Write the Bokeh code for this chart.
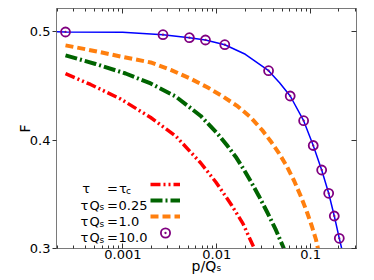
import math
from bokeh.plotting import figure
from bokeh.models import (FixedTicker, PrintfTickFormatter, CustomJSTickFormatter, LogAxis,
                          LinearAxis, Label, Legend, LegendItem, Range1d)
from bokeh.embed import file_html
from bokeh.resources import INLINE

# ---------------- data ----------------
blue_p = [1.961e-4, 2.446e-4, 9.927e-4, 2.6727e-3, 5.112e-3, 7.575e-3, 1.2175e-2, 2.0146e-2,
          3.5638e-2, 4.6672e-2, 6.0584e-2, 8.4199e-2, 0.10659, 0.13108, 0.15566, 0.17860,
          0.20197, 0.21423]
blue_F = [0.5, 0.49982, 0.49954, 0.49732, 0.49455, 0.49243, 0.48809, 0.47923,
          0.46410, 0.45302, 0.44075, 0.41795, 0.39506, 0.37245, 0.35095, 0.33000,
          0.30941, 0.3]

circ_p = [2.446e-4, 2.6727e-3, 5.112e-3, 7.575e-3, 1.2175e-2, 3.5638e-2, 6.0584e-2,
          8.4199e-2, 0.10659, 0.13108, 0.15566, 0.17860, 0.20197]
circ_F = [0.49982, 0.49732, 0.49455, 0.49243, 0.48809, 0.46410, 0.44075,
          0.41795, 0.39506, 0.37245, 0.35095, 0.33000, 0.30941]

orange_p = [2.446e-4, 5.113e-4, 9.450e-4, 1.975e-3, 3.229e-3, 5.279e-3, 8.017e-3, 1.1879e-2,
            1.6757e-2, 2.3058e-2, 3.097e-2, 3.770e-2, 4.588e-2, 5.585e-2, 6.683e-2,
            7.881e-2, 9.130e-2, 0.10324, 0.11391, 0.11964]
orange_F = [0.4875, 0.4821, 0.4772, 0.4717, 0.4649, 0.4566, 0.4486, 0.4398,
            0.4311, 0.4209, 0.4085, 0.3988, 0.3881, 0.3757, 0.3623,
            0.3480, 0.3337, 0.3203, 0.3083, 0.3]

green_p = [2.446e-4, 5.113e-4, 1.0686e-3, 1.975e-3, 3.651e-3, 6.749e-3, 1.0249e-2, 1.2789e-2,
           1.5955e-2, 1.9418e-2, 2.3058e-2, 2.8071e-2, 3.5031e-2, 4.2631e-2, 5.1882e-2]
green_F = [0.4783, 0.4703, 0.4615, 0.4523, 0.4403, 0.4223, 0.4057, 0.3955,
           0.3845, 0.3729, 0.3618, 0.3485, 0.3323, 0.3171, 0.3]

red_p = [2.446e-4, 4.520e-4, 9.450e-4, 1.975e-3, 3.651e-3, 6.749e-3, 9.757e-3, 1.4108e-2,
         1.8947e-2, 2.5131e-2]
red_F = [0.4613, 0.4514, 0.4380, 0.4209, 0.4038, 0.3789, 0.3614, 0.3411,
         0.3232, 0.3]

x_ticks = [0.001, 0.01, 0.1]
y_ticks = [0.3, 0.4, 0.5]
legend_values = ["0.25", "1.0", "10.0"]

FONT = "DejaVu Sans"
AX = "#7a7a7a"

p = figure(width=374, height=280, x_axis_type="log",
           x_range=Range1d(1.961e-4, 0.308), y_range=Range1d(0.3, 0.5215),
           output_backend="svg", toolbar_location=None,
           min_border_left=56, min_border_right=18, min_border_top=8, min_border_bottom=32)
p.grid.visible = False
p.outline_line_color = AX
p.background_fill_color = "white"
p.border_fill_color = "white"

minor = [m * 10.0 ** e for e in (-4, -3, -2, -1) for m in range(2, 10)]
xt = FixedTicker(ticks=x_ticks, minor_ticks=minor)
yt = FixedTicker(ticks=y_ticks, minor_ticks=[])

xa = p.xaxis[0]
xa.ticker = xt
xa.formatter = PrintfTickFormatter(format="%g")
xa.major_tick_in = 5
xa.major_tick_out = 0
xa.minor_tick_in = 3
xa.minor_tick_out = 0
xa.major_label_standoff = 1
xa.axis_label = "p/Q\u209b"
xa.axis_label_standoff = -4
ya = p.yaxis[0]
ya.ticker = yt
ya.formatter = PrintfTickFormatter(format="%.1f")
ya.major_tick_in = 0
ya.major_tick_out = 4
ya.minor_tick_in = 0
ya.minor_tick_out = 0
ya.major_label_standoff = 2
ya.axis_label = "F"
ya.axis_label_standoff = -6
for a in (xa, ya):
    a.axis_line_color = AX
    a.major_tick_line_color = "#333333"
    a.minor_tick_line_color = "#333333"
    a.major_label_text_font = FONT
    a.major_label_text_font_size = "13px"
    a.major_label_text_color = "black"
    a.axis_label_text_font = FONT
    a.axis_label_text_font_size = "14px"
    a.axis_label_text_font_style = "normal"
    a.axis_label_text_color = "black"

blank = CustomJSTickFormatter(code="return ''")
top = LogAxis(ticker=xt, formatter=blank, major_tick_in=5, major_tick_out=0,
              minor_tick_in=3, minor_tick_out=0, major_label_standoff=0,
              axis_line_color=AX, major_tick_line_color="#333333",
              minor_tick_line_color="#333333", major_label_text_font_size="1px")
right = LinearAxis(ticker=yt, formatter=blank, major_tick_in=5, major_tick_out=0,
                   minor_tick_in=0, minor_tick_out=0, major_label_standoff=0,
                   axis_line_color=AX, major_tick_line_color="#333333",
                   major_label_text_font_size="1px")
p.add_layout(top, "above")
p.add_layout(right, "right")

r_red = p.line(red_p, red_F, line_color="#ff0000", line_width=3.5, line_dash="10 3 2 3 2 3")
r_green = p.line(green_p, green_F, line_color="#006400", line_width=4, line_dash="12 3 2 3")
r_orange = p.line(orange_p, orange_F, line_color="#ff7f0e", line_width=4, line_dash="8 4")
p.line(blue_p, blue_F, line_color="#0000ff", line_width=1.5)
r_circ = p.scatter(circ_p, circ_F, marker="circle_dot", size=9, line_color="#800080",
                   fill_color=None, line_width=1.8)

# legend samples (glyphs only), text drawn as labels
leg1 = Legend(items=[LegendItem(label=" ", renderers=[r]) for r in (r_red, r_green, r_orange)],
              location=(94, 24), padding=0, margin=0, spacing=0, glyph_width=30, glyph_height=16,
              label_height=16, label_width=0, label_standoff=0, label_text_font_size="1px",
              background_fill_alpha=0, border_line_alpha=0)
leg2 = Legend(items=[LegendItem(label=" ", renderers=[r_circ])],
              location=(94, 4), padding=0, margin=0, spacing=0, glyph_width=30, glyph_height=23,
              label_height=23, label_width=0, label_standoff=0, label_text_font_size="1px",
              background_fill_alpha=0, border_line_alpha=0)
p.add_layout(leg1)
p.add_layout(leg2)


def lab(x, y, text, size="13px"):
    p.add_layout(Label(x=x, y=y, x_units="screen", y_units="screen", text=text,
                       text_font=FONT, text_font_size=size, text_color="black",
                       text_baseline="alphabetic", text_align="left"))


rows = [60, 43.3, 27, 10.7]
lab(25.7, rows[0], "\u03c4")
lab(50.5, rows[0], "=")
lab(62.5, rows[0], "\u03c4")
lab(69.5, rows[0] - 2, "c", size="9px")
for yb, v in zip(rows[1:], legend_values):
    lab(24.0, yb, "\u03c4")
    lab(33.0, yb, "Q")
    lab(43.0, yb - 2, "s", size="9px")
    lab(50.5, yb, "=")
    lab(62.0, yb, v)

open("out.html", "w").write(file_html(p, INLINE))
